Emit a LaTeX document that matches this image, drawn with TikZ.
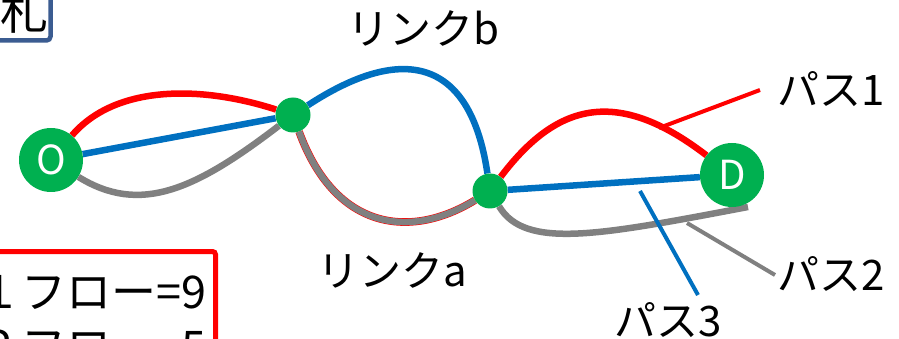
\documentclass[tikz,border=0pt]{standalone}
\usepackage{fontspec}
\setmainfont{Noto Sans CJK JP}
\usepackage{xcolor}
\usetikzlibrary{backgrounds}
\definecolor{nodegreen}{RGB}{0,176,80}
\definecolor{linkblue}{RGB}{0,112,192}
\definecolor{linkgray}{RGB}{128,128,128}
\definecolor{linkred}{RGB}{255,0,0}
\definecolor{frameblue}{RGB}{59,92,145}
\newcommand{\jpsize}{\fontsize{42}{50}\selectfont}
\tikzset{
    endpoint/.style={
        circle,
        fill=nodegreen,
        text=white,
        minimum size=64pt,
        inner sep=0pt,
        font=\fontsize{40}{48}\selectfont
    },
    relay/.style={
        circle,
        fill=nodegreen,
        minimum size=35pt,
        inner sep=0pt
    },
    flowline/.style={
        line width=6.5pt
    },
    calloutline/.style={
        line width=4pt
    },
    pathtext/.style={
        inner sep=0pt,
        anchor=base west,
        font=\jpsize
    },
    flowtext/.style={
        inner sep=0pt,
        anchor=base east,
        font=\fontsize{45}{54}\selectfont
    }
}

\begin{document}
\begin{tikzpicture}[x=1pt,y=-1pt]
\useasboundingbox (0,0) rectangle (899,339);

% ---------------------------------------------------------
% Frames at the page edge
% ---------------------------------------------------------
\draw[frameblue, line width=4.5pt, rounded corners=4pt, fill=white]
    (-20,-20) rectangle (50.5,40.5);
\node[inner sep=0pt, anchor=base, font=\fontsize{48}{56}\selectfont]
    (tag) at (24,30) {札};

\draw[linkred, line width=5pt, rounded corners=3pt]
    (-20,251.5) rectangle (215.5,400);
\node[flowtext] (flow1) at (207,308) {１フロー=9};
\node[flowtext] (flow2) at (207,363) {２フロー=5};

% ---------------------------------------------------------
% Nodes
% ---------------------------------------------------------
\node[endpoint] (O) at (51,160) {O};
\node[relay] (r1) at (293,115) {};
\node[relay] (r2) at (490,191) {};
\node[endpoint] (D) at (732,175) {D};

% ---------------------------------------------------------
% Paths (behind the nodes)
% ---------------------------------------------------------
\begin{scope}[on background layer]
    % path 1
    \draw[flowline, linkred] (O) .. controls (115,85) and (200,85) .. (r1);
    \draw[flowline, linkred, line width=7.6pt]
        (r1) .. controls (335,230) and (410,240) .. (r2);
    \draw[flowline, linkred] (r2) .. controls (555,105) and (615,85) .. (D);

    % path 2
    \coordinate (grayend) at (748,207);
    \draw[flowline, linkgray] (O) .. controls (140,215) and (195,190) .. (r1);
    \draw[flowline, linkgray] (r1) .. controls (335,230) and (410,240) .. (r2);
    \draw[flowline, linkgray] (r2) .. controls (525,250) and (600,235) .. (grayend);

    % path 3
    \draw[flowline, linkblue] (O) -- (r1);
    \draw[flowline, linkblue] (r1) .. controls (400,45) and (470,55) .. (r2);
    \draw[flowline, linkblue] (r2) -- (D);
\end{scope}

% ---------------------------------------------------------
% Labels and callouts
% ---------------------------------------------------------
\node[pathtext] (linkb) at (347,45) {リンクb};
\node[pathtext] (linka) at (317,286) {リンクa};
\node[pathtext] (p1) at (777,106) {パス1};
\node[pathtext] (p2) at (777,290) {パス2};
\node[pathtext] (p3) at (614,336) {パス3};

\foreach \c/\sx/\sy/\ex/\ey in {
    linkred/659/128/760/90,
    linkgray/687/223/775/275,
    linkblue/640/191/698/295
}
{
    \coordinate (cs) at (\sx,\sy);
    \coordinate (ce) at (\ex,\ey);
    \draw[calloutline, \c] (cs) -- (ce);
}

\end{tikzpicture}
\end{document}
